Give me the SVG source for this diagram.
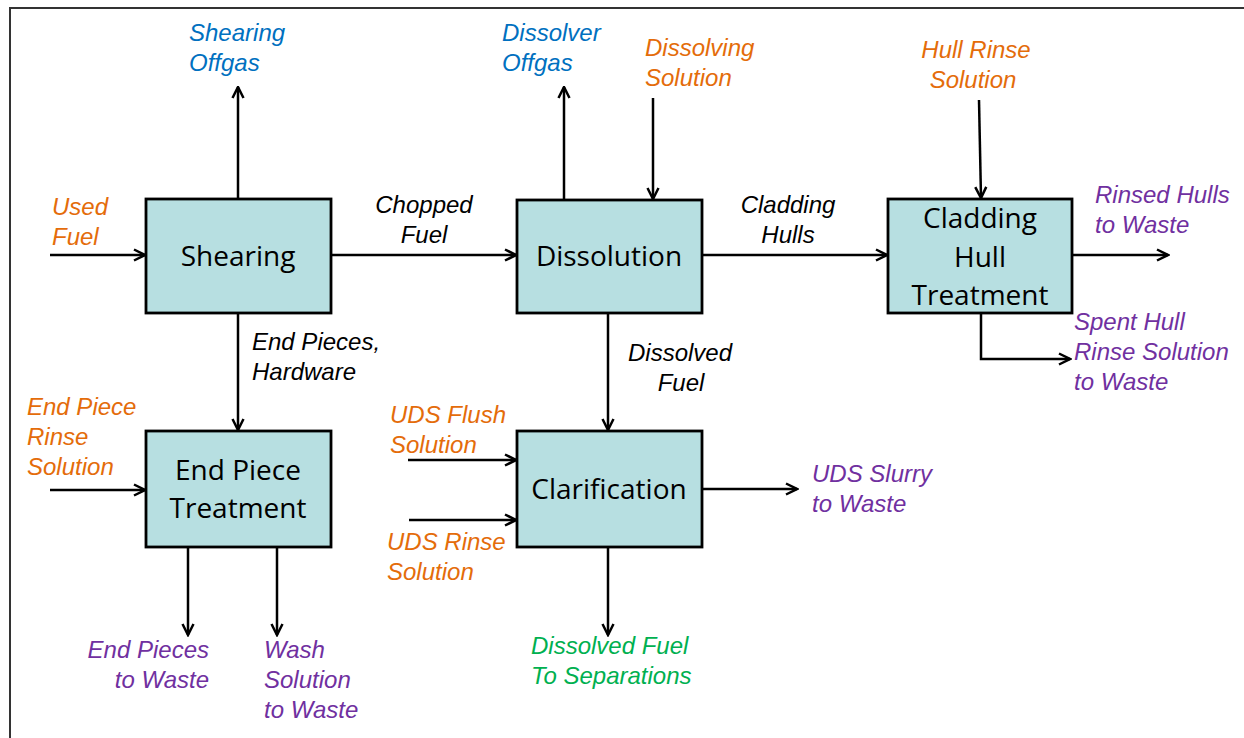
<svg xmlns="http://www.w3.org/2000/svg" width="1244" height="738" viewBox="0 0 1244 738">
<defs>
<style>
.box{fill:#b7dfe1;stroke:#000;stroke-width:2.8}
.bt{font-family:"Open Sans","Liberation Sans",sans-serif;font-size:28px;fill:#000;text-anchor:middle}
.lb{font-family:"Liberation Sans",Arial,sans-serif;font-size:24px;font-style:italic}
.blue{fill:#0070c0}.org{fill:#e46c0a}.pur{fill:#7030a0}.grn{fill:#00b050}.blk{fill:#000}
.c{fill:none;stroke:#000;stroke-width:2.5;marker-end:url(#ah)}
</style>
<marker id="ah" viewBox="0 0 14 14" refX="12.5" refY="7" markerWidth="14" markerHeight="14" markerUnits="userSpaceOnUse" orient="auto">
<path d="M1.5,1.5 L12.5,7 L1.5,12.5" fill="none" stroke="#000" stroke-width="2.5"/>
</marker>
</defs>
<rect width="1244" height="738" fill="#fff"/>
<rect x="10" y="8" width="1300" height="800" fill="none" stroke="#333" stroke-width="2"/>
<g id="connectors">
<path class="c" d="M50,255 H145"/>
<path class="c" d="M238,198 V87"/>
<path class="c" d="M331,255 H516"/>
<path class="c" d="M238,313 V430"/>
<path class="c" d="M564,200 V87"/>
<path class="c" d="M653,98 V199"/>
<path class="c" d="M702,255 H887"/>
<path class="c" d="M979,100 L981,198"/>
<path class="c" d="M1072,255 H1168"/>
<path class="c" d="M981,313 V359 H1070"/>
<path class="c" d="M608,313 V430"/>
<path class="c" d="M50,490 H145"/>
<path class="c" d="M188,547 V635"/>
<path class="c" d="M277,547 V635"/>
<path class="c" d="M408,460 H516"/>
<path class="c" d="M409,520 H516"/>
<path class="c" d="M702,489 H797"/>
<path class="c" d="M608,547 V635"/>
</g>
<g id="shearing"><rect class="box" x="146" y="199" width="185" height="114"/><text class="bt" x="238" y="266">Shearing</text></g>
<g id="dissolution"><rect class="box" x="517" y="200" width="185" height="113"/><text class="bt" x="609" y="266">Dissolution</text></g>
<g id="cladding"><rect class="box" x="888" y="199" width="184" height="114"/><text class="bt" x="980" y="228">Cladding</text><text class="bt" x="980" y="267">Hull</text><text class="bt" x="980" y="305">Treatment</text></g>
<g id="endpiece"><rect class="box" x="146" y="431" width="185" height="116"/><text class="bt" x="238" y="480">End Piece</text><text class="bt" x="238" y="518">Treatment</text></g>
<g id="clarification"><rect class="box" x="517" y="431" width="185" height="116"/><text class="bt" x="609" y="499">Clarification</text></g>
<g id="labels">
<text class="lb blue" x="189" y="41">Shearing</text><text class="lb blue" x="189" y="71">Offgas</text>
<text class="lb org" x="52" y="215">Used</text><text class="lb org" x="52" y="245">Fuel</text>
<text class="lb blk" x="424" y="213" text-anchor="middle">Chopped</text><text class="lb blk" x="424" y="243" text-anchor="middle">Fuel</text>
<text class="lb blue" x="502" y="41">Dissolver</text><text class="lb blue" x="502" y="71">Offgas</text>
<text class="lb org" x="645" y="56">Dissolving</text><text class="lb org" x="645" y="86">Solution</text>
<text class="lb blk" x="788" y="213" text-anchor="middle">Cladding</text><text class="lb blk" x="788" y="243" text-anchor="middle">Hulls</text>
<text class="lb org" x="976" y="58" text-anchor="middle">Hull Rinse</text><text class="lb org" x="973" y="88" text-anchor="middle">Solution</text>
<text class="lb pur" x="1095" y="203">Rinsed Hulls</text><text class="lb pur" x="1095" y="233">to Waste</text>
<text class="lb pur" x="1074" y="330">Spent Hull</text><text class="lb pur" x="1074" y="360">Rinse Solution</text><text class="lb pur" x="1074" y="390">to Waste</text>
<text class="lb blk" x="252" y="350">End Pieces,</text><text class="lb blk" x="252" y="380">Hardware</text>
<text class="lb blk" x="680" y="361" text-anchor="middle">Dissolved</text><text class="lb blk" x="681" y="391" text-anchor="middle">Fuel</text>
<text class="lb org" x="27" y="415">End Piece</text><text class="lb org" x="27" y="445">Rinse</text><text class="lb org" x="27" y="475">Solution</text>
<text class="lb org" x="390" y="423">UDS Flush</text><text class="lb org" x="390" y="453">Solution</text>
<text class="lb org" x="387" y="550">UDS Rinse</text><text class="lb org" x="387" y="580">Solution</text>
<text class="lb pur" x="812" y="482">UDS Slurry</text><text class="lb pur" x="812" y="512">to Waste</text>
<text class="lb pur" x="209" y="658" text-anchor="end">End Pieces</text><text class="lb pur" x="209" y="688" text-anchor="end">to Waste</text>
<text class="lb pur" x="264" y="658">Wash</text><text class="lb pur" x="264" y="688">Solution</text><text class="lb pur" x="264" y="718">to Waste</text>
<text class="lb grn" x="531" y="654">Dissolved Fuel</text><text class="lb grn" x="531" y="684">To Separations</text>
</g>
</svg>
